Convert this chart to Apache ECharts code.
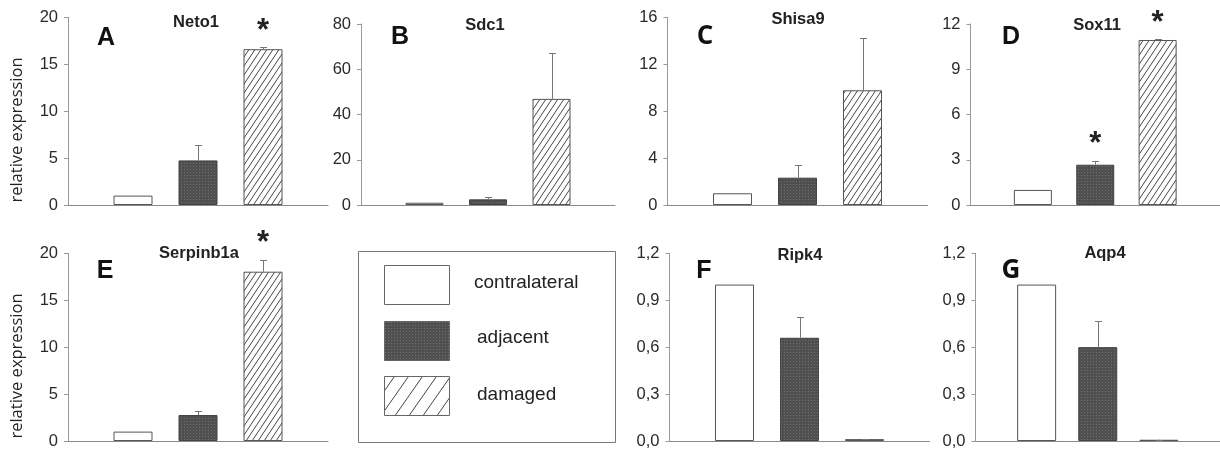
<!DOCTYPE html>
<html>
<head>
<meta charset="utf-8">
<script src="https://cdn.jsdelivr.net/npm/echarts@6/dist/echarts.min.js"></script>
<style>
html,body{margin:0;padding:0;background:#fff;}
#chart{width:1220px;height:450px;}
</style>
</head>
<body>
<div id="chart"></div>
<script>
// ---------- data ----------
const genes = ['Neto1', 'Sdc1', 'Shisa9', 'Sox11', 'Serpinb1a', 'Ripk4', 'Aqp4'];
const panelLetters = ['A', 'B', 'C', 'D', 'E', 'F', 'G'];
const groups = ['contralateral', 'adjacent', 'damaged'];
const contralateral = [1, 1, 1, 1, 1, 1, 1];
const adjacent = [4.75, 2.5, 2.33, 2.67, 2.77, 0.66, 0.60];
const damaged = [16.6, 46.9, 9.78, 10.94, 18.04, 0.012, 0.008];
const adjacentErr = [1.65, 0.9, 1.07, 0.27, 0.43, 0.13, 0.17];
const damagedErr = [0.2, 20.4, 4.42, 0.05, 1.26, 0.002, 0.001];
const yMax = [20, 80, 16, 12, 20, 1.2, 1.2];
const yStep = [5, 20, 4, 3, 5, 0.3, 0.3];
const sigAdjacent = [false, false, false, true, false, false, false];
const sigDamaged = [true, false, false, true, true, false, false];
const yTitle = 'relative expression';

// ---------- layout (pixels) ----------
const boxes = [
  {left: 68, top: 17.3, width: 260, height: 187.7, bw: 39},
  {left: 361, top: 24, width: 254, height: 181, bw: 38},
  {left: 667.5, top: 17.3, width: 260, height: 187.7, bw: 39},
  {left: 970.5, top: 24, width: 254, height: 181, bw: 38},
  {left: 68, top: 253.3, width: 260, height: 187.7, bw: 39},
  {left: 669.5, top: 253.3, width: 260, height: 187.7, bw: 39},
  {left: 975.5, top: 253.3, width: 260, height: 187.7, bw: 39}
];
const letterPos = [[106, 38], [400, 37], [705, 37], [1011, 37], [105, 271], [704, 271], [1011, 271]];
const titlePos = [[196, 22], [485, 25], [798, 19], [1097, 25], [199, 253], [800, 255], [1105, 253]];
const calibriLike = [false, false, true, false, false, false, true];

const FONT = '"Liberation Sans", Arial, sans-serif';

// ---------- patterns ----------
function hatchCanvas(w, h, lw, col) {
  const c = document.createElement('canvas');
  c.width = w; c.height = h;
  const g = c.getContext('2d');
  g.fillStyle = '#fff'; g.fillRect(0, 0, w, h);
  g.strokeStyle = col; g.lineWidth = lw;
  for (const dx of [-w, 0, w]) {
    g.beginPath(); g.moveTo(dx, h); g.lineTo(dx + w, 0); g.stroke();
  }
  return c;
}
function stippleCanvas() {
  const c = document.createElement('canvas');
  c.width = 3; c.height = 3;
  const g = c.getContext('2d');
  g.fillStyle = '#4f4f4f'; g.fillRect(0, 0, 3, 3);
  g.fillStyle = '#727272'; g.fillRect(1, 1, 1, 1);
  return c;
}
const hatchSmall = {image: hatchCanvas(6, 9, 1, '#444'), repeat: 'repeat'};
const hatchLegend = {image: hatchCanvas(14, 20, 1, '#444'), repeat: 'repeat'};
const stipple = {image: stippleCanvas(), repeat: 'repeat'};

const groupStyles = [
  {color: '#ffffff', borderColor: '#555', borderWidth: 1},
  {color: stipple, borderColor: '#444', borderWidth: 1},
  {color: hatchSmall, borderColor: '#555', borderWidth: 1}
];

// ---------- build option ----------
const grid = [], xAxis = [], yAxis = [], series = [], graphic = [];

function errRender(params, api) {
  const x = api.value(0), v = api.value(1), e = api.value(2);
  const b = api.coord([x, v]);
  const t = api.coord([x, v + e]);
  const cx = Math.round(b[0]) + 0.5, ty = Math.round(t[1]) + 0.5;
  return {type: 'group', children: [
    {type: 'line', shape: {x1: cx, y1: b[1], x2: cx, y2: ty}, style: {stroke: '#777', lineWidth: 1}},
    {type: 'line', shape: {x1: cx - 3.5, y1: ty, x2: cx + 3.5, y2: ty}, style: {stroke: '#777', lineWidth: 1}}
  ]};
}
function starRender(params, api) {
  const p = api.coord([api.value(0), api.value(1)]);
  return {type: 'text', x: p[0], y: p[1] - 16, style: {text: '*', fontSize: 31, fontWeight: 'bold', fontFamily: FONT, fill: '#222', align: 'center', verticalAlign: 'middle'}};
}

genes.forEach((gene, i) => {
  const bx = boxes[i];
  grid.push({left: bx.left, top: bx.top, width: bx.width, height: bx.height, containLabel: false});
  xAxis.push({
    type: 'value', gridIndex: i, min: 0, max: 4,
    axisLine: {show: true, lineStyle: {color: '#8a8a8a', width: 1}},
    axisTick: {show: false}, axisLabel: {show: false}, splitLine: {show: false}
  });
  const step = yStep[i];
  yAxis.push({
    type: 'value', gridIndex: i, min: 0, max: yMax[i], interval: step,
    axisLine: {show: true, lineStyle: {color: '#9a9a9a', width: 1}},
    axisTick: {show: true, length: 4, lineStyle: {color: '#9a9a9a'}},
    splitLine: {show: false},
    axisLabel: {
      fontSize: 16.5, color: '#2a2a2a', fontFamily: FONT, margin: 10,
      formatter: v => step < 1 ? v.toFixed(1).replace('.', ',') : String(Math.round(v))
    }
  });
  const vals = [contralateral[i], adjacent[i], damaged[i]];
  series.push({
    type: 'bar', xAxisIndex: i, yAxisIndex: i, barWidth: bx.bw,
    data: vals.map((v, k) => ({value: [k + 1, v], itemStyle: groupStyles[k]})),
    animation: false, silent: true
  });
  series.push({
    type: 'custom', xAxisIndex: i, yAxisIndex: i, renderItem: errRender, clip: false,
    encode: {x: 0, y: 1}, z: 5, animation: false, silent: true,
    data: [[2, adjacent[i], adjacentErr[i]], [3, damaged[i], damagedErr[i]]]
  });
  const stars = [];
  if (sigAdjacent[i]) stars.push([2, adjacent[i] + adjacentErr[i]]);
  if (sigDamaged[i]) stars.push([3, damaged[i] + damagedErr[i]]);
  series.push({
    type: 'custom', xAxisIndex: i, yAxisIndex: i, renderItem: starRender, clip: false,
    encode: {x: 0, y: 1}, z: 6, animation: false, silent: true, data: stars
  });
  graphic.push({
    type: 'text', x: letterPos[i][0], y: letterPos[i][1],
    style: {text: panelLetters[i], fontSize: calibriLike[i] ? 26 : 25, fontWeight: 'bold',
      fontFamily: calibriLike[i] ? '"Open Sans", sans-serif' : FONT,
      fill: '#111', align: 'center', verticalAlign: 'middle'}
  });
  graphic.push({
    type: 'text', x: titlePos[i][0], y: titlePos[i][1],
    style: {text: gene, fontSize: 16.5, fontWeight: 'bold', fontFamily: FONT, fill: '#222', align: 'center', verticalAlign: 'middle'}
  });
});

// y-axis titles
[[17, 130], [17, 366]].forEach(p => {
  graphic.push({
    type: 'text', x: p[0], y: p[1], rotation: Math.PI / 2,
    style: {text: yTitle, fontSize: 16.5, fontFamily: '"Open Sans", sans-serif', fill: '#222', align: 'center', verticalAlign: 'middle'}
  });
});

// legend box
graphic.push({type: 'rect', shape: {x: 358.5, y: 251.5, width: 257, height: 191}, style: {fill: '#fff', stroke: '#777', lineWidth: 1}});
const swatchFill = ['#ffffff', stipple, hatchLegend];
const swatchY = [265.5, 321.5, 376.5];
const labelY = [283, 338, 395];
const labelX = [474, 477, 477];
groups.forEach((g, k) => {
  graphic.push({type: 'rect', shape: {x: 384.5, y: swatchY[k], width: 65, height: 39},
    style: {fill: swatchFill[k], stroke: '#666', lineWidth: 1}});
  graphic.push({type: 'text', x: labelX[k], y: labelY[k],
    style: {text: g, fontSize: 19, fontFamily: FONT, fill: '#222', align: 'left', verticalAlign: 'middle'}});
});

const chart = echarts.init(document.getElementById('chart'), null, {renderer: 'canvas'});
chart.setOption({
  animation: false,
  backgroundColor: '#ffffff',
  grid, xAxis, yAxis, series, graphic
});
</script>
</body>
</html>
